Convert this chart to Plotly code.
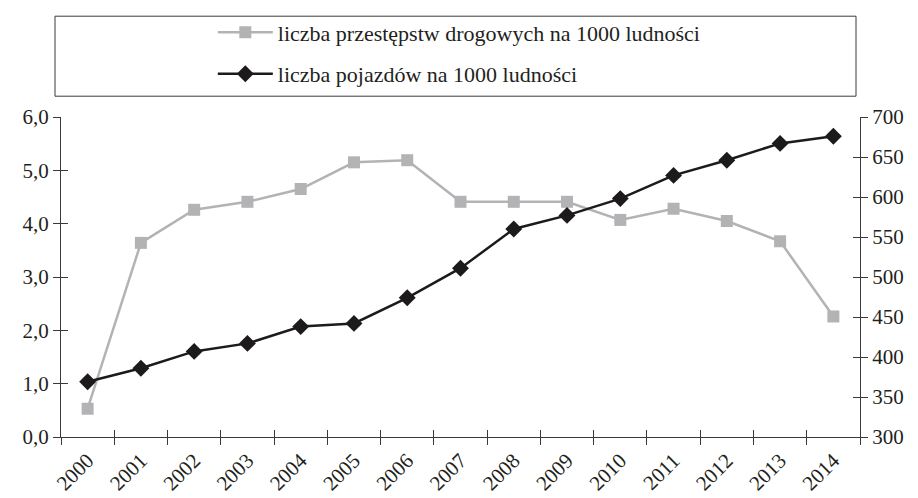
import plotly.graph_objects as go

# years on the category axis
years = ["2000", "2001", "2002", "2003", "2004", "2005", "2006", "2007",
         "2008", "2009", "2010", "2011", "2012", "2013", "2014"]

# road offences per 1000 inhabitants (left axis)
przestepstwa = [0.53, 3.64, 4.26, 4.41, 4.65, 5.15, 5.19, 4.41,
                4.41, 4.41, 4.07, 4.28, 4.05, 3.67, 2.26]

# vehicles per 1000 inhabitants (right axis)
pojazdy = [369, 386, 407, 417, 438, 442, 474, 511,
           560, 577, 598, 627, 646, 667, 676]

name_przest = "liczba przestępstw drogowych na 1000 ludności"
name_pojazdy = "liczba pojazdów na 1000 ludności"

font_family = "Liberation Serif"
axis_col = "#3a3a3a"
grey = "#b3b3b6"
black = "#1c1a1b"

fig = go.Figure()

# grey squares on the left axis
fig.add_trace(go.Scatter(x=years, y=przestepstwa, name=name_przest,
                         mode="lines+markers", legendgroup="a",
                         line=dict(color=grey, width=2.5),
                         marker=dict(symbol="square", size=12, color=grey),
                         yaxis="y"))

# black diamonds on the right axis
fig.add_trace(go.Scatter(x=years, y=pojazdy, name=name_pojazdy,
                         mode="lines+markers", legendgroup="b",
                         line=dict(color=black, width=2.5),
                         marker=dict(symbol="diamond", size=13, color=black),
                         yaxis="y2"))

# invisible helper traces so the inside ticks get drawn (crossing ticks)
fig.add_trace(go.Scatter(x=years, y=przestepstwa, xaxis="x2", yaxis="y3",
                         mode="lines", line=dict(width=0), opacity=0,
                         showlegend=False, hoverinfo="skip"))
fig.add_trace(go.Scatter(x=years, y=pojazdy, xaxis="x2", yaxis="y4",
                         mode="lines", line=dict(width=0), opacity=0,
                         showlegend=False, hoverinfo="skip"))

tick_font = dict(family=font_family, size=21, color="#231f20")

fig.update_layout(
    width=918, height=498,
    margin=dict(l=61, r=58, t=113, b=61),
    plot_bgcolor="white", paper_bgcolor="white",
    separators=", ",
    font=dict(family=font_family, size=21, color="#231f20"),
    showlegend=True,
    legend=dict(x=0.19, y=1.33, xanchor="left", yanchor="top",
                bgcolor="rgba(0,0,0,0)", borderwidth=0,
                font=dict(family=font_family, size=22, color="#231f20"),
                traceorder="grouped", tracegroupgap=10, itemwidth=55),
    xaxis=dict(type="category", showgrid=False, zeroline=False,
               showline=True, linecolor=axis_col, linewidth=1,
               ticks="outside", ticklen=7, tickcolor=axis_col,
               tickson="boundaries", tickangle=-45, tickfont=tick_font,
               ticklabelstandoff=2,
               range=[-0.5, 14.5], automargin=False),
    xaxis2=dict(type="category", overlaying="x", anchor="y3",
                showgrid=False, zeroline=False, showline=False,
                ticks="inside", ticklen=7, tickcolor=axis_col,
                tickson="boundaries", showticklabels=False,
                range=[-0.5, 14.5], automargin=False),
    yaxis=dict(range=[0, 6], dtick=1, tickformat=".1f",
               showgrid=False, zeroline=False,
               showline=True, linecolor=axis_col, linewidth=1,
               ticks="outside", ticklen=7, tickcolor=axis_col,
               tickfont=tick_font, automargin=False),
    yaxis2=dict(range=[300, 700], dtick=50, overlaying="y", side="right",
                showgrid=False, zeroline=False,
                showline=True, linecolor=axis_col, linewidth=1,
                ticks="outside", ticklen=7, tickcolor=axis_col,
                tickfont=tick_font, automargin=False),
    yaxis3=dict(range=[0, 6], dtick=1, overlaying="y", side="left",
                showgrid=False, zeroline=False, showline=False,
                ticks="inside", ticklen=7, tickcolor=axis_col,
                showticklabels=False, automargin=False),
    yaxis4=dict(range=[300, 700], dtick=50, overlaying="y", side="right",
                showgrid=False, zeroline=False, showline=False,
                ticks="inside", ticklen=7, tickcolor=axis_col,
                showticklabels=False, automargin=False),
)

# legend frame
fig.add_shape(type="rect", xref="paper", yref="paper",
              x0=-0.0075, x1=0.995, y0=1.065, y1=1.315,
              line=dict(color=axis_col, width=1), fillcolor="rgba(0,0,0,0)")

# drop the default page margin so the figure sits at the window's corner
fig.write_html("out.html",
               config={"displayModeBar": False},
               post_script="document.body.style.margin='0';"
                           "document.body.style.overflow='hidden';")
